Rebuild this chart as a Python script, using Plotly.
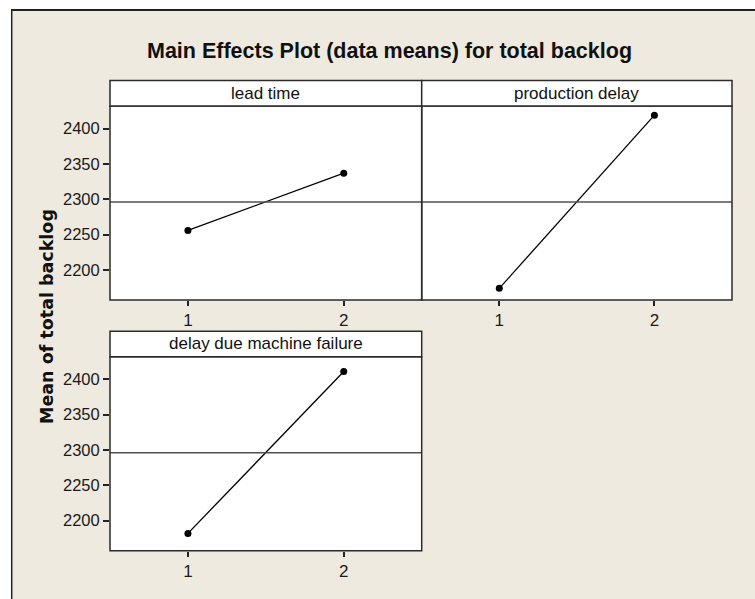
import plotly.graph_objects as go

# Main effects: mean response at each factor level
factors = ["lead time", "production delay", "delay due machine failure"]
levels = [1, 2]
lead_time_means = [2256, 2337]
production_delay_means = [2174, 2419]
machine_failure_means = [2182, 2411]
grand_mean = 2296
y_ticks = [2200, 2250, 2300, 2350, 2400]

W, H = 755, 599
BG = "#eeeae0"
FONT = "Liberation Sans, Arial, sans-serif"
EDGE = "#2b2b2b"


def px_x(v):
    return v / W


def px_y(v):
    return 1 - v / H


# panel boxes in pixels: (left, top, right, bottom)
panels = [
    (110, 106, 421.7, 300),
    (421.7, 106, 732, 300),
    (110, 356.7, 421.7, 550.7),
]
strip_h = 25.5
series = [lead_time_means, production_delay_means, machine_failure_means]
show_y = [True, False, True]

fig = go.Figure()
layout_axes = {}
shapes = []
annotations = []

for i, (box, name, vals) in enumerate(zip(panels, factors, series)):
    l, t, r, b = box
    n = "" if i == 0 else str(i + 1)
    xa, ya = "x" + n, "y" + n
    fig.add_trace(go.Scatter(
        x=levels, y=vals, xaxis=xa, yaxis=ya, mode="lines+markers",
        line=dict(color="black", width=1.3),
        marker=dict(color="black", size=7),
        showlegend=False, hoverinfo="x+y",
    ))
    layout_axes["xaxis" + n] = dict(
        domain=[px_x(l), px_x(r)], anchor=ya, range=[0.5, 2.5],
        tickvals=levels, ticktext=[str(v) for v in levels],
        ticks="outside", ticklen=5, tickwidth=1.5, tickcolor="#222",
        showline=False, showgrid=False, zeroline=False, fixedrange=True,
        tickfont=dict(family=FONT, size=17, color="#1a1a1a"),
    )
    layout_axes["yaxis" + n] = dict(
        domain=[px_y(b), px_y(t)], anchor=xa, range=[2157.5, 2432],
        tickvals=y_ticks if show_y[i] else [],
        ticks="outside" if show_y[i] else "", ticklen=6, tickwidth=1.5,
        tickcolor="#222", showticklabels=show_y[i],
        showline=False, showgrid=False, zeroline=False, fixedrange=True,
        tickfont=dict(family=FONT, size=16.5, color="#1a1a1a"),
    )
    # grand-mean reference line
    shapes.append(dict(
        type="line", xref=xa + " domain", yref=ya,
        x0=0, x1=1, y0=grand_mean, y1=grand_mean,
        line=dict(color="#505050", width=1.5), layer="above",
    ))
    # panel frame
    shapes.append(dict(
        type="rect", xref="paper", yref="paper",
        x0=px_x(l), x1=px_x(r), y0=px_y(b), y1=px_y(t),
        line=dict(color=EDGE, width=1.5), layer="above",
    ))
    # factor strip above the panel
    shapes.append(dict(
        type="rect", xref="paper", yref="paper",
        x0=px_x(l), x1=px_x(r), y0=px_y(t), y1=px_y(t - strip_h),
        fillcolor="white", line=dict(color=EDGE, width=1.5),
    ))
    annotations.append(dict(
        text=name, xref="paper", yref="paper", showarrow=False,
        x=px_x((l + r) / 2), y=px_y(t - strip_h / 2),
        xanchor="center", yanchor="middle",
        font=dict(family=FONT, size=17, color="#111"),
    ))

# white margin outside the framed graph region and the frame edges
shapes += [
    dict(type="rect", xref="paper", yref="paper", x0=0, x1=px_x(11),
         y0=-0.05, y1=1.05, fillcolor="white", line=dict(width=0), layer="below"),
    dict(type="rect", xref="paper", yref="paper", x0=0, x1=1.05,
         y0=px_y(9), y1=1.05, fillcolor="white", line=dict(width=0), layer="below"),
    dict(type="line", xref="paper", yref="paper", x0=px_x(11.7), x1=px_x(11.7),
         y0=px_y(9), y1=-0.05, line=dict(color="#222", width=1.5)),
    dict(type="line", xref="paper", yref="paper", x0=px_x(11), x1=1.05,
         y0=px_y(10), y1=px_y(10), line=dict(color="#222", width=2)),
]

annotations += [
    dict(text="<b>Main Effects Plot (data means) for total backlog</b>",
         xref="paper", yref="paper", showarrow=False,
         x=px_x(389), y=px_y(51), xanchor="center", yanchor="middle",
         font=dict(family=FONT, size=21.5, color="#111")),
    dict(text="<b>Mean of total backlog</b>", textangle=-90,
         xref="paper", yref="paper", showarrow=False,
         x=px_x(47), y=px_y(317), xanchor="center", yanchor="middle",
         font=dict(family="DejaVu Sans, Verdana, sans-serif", size=17.5, color="#111")),
]

fig.update_layout(
    width=W, height=H, margin=dict(l=0, r=0, t=0, b=0),
    paper_bgcolor=BG, plot_bgcolor="white",
    shapes=shapes, annotations=annotations, showlegend=False,
    **layout_axes,
)

fig.write_html("out.html", config={"displayModeBar": False})
